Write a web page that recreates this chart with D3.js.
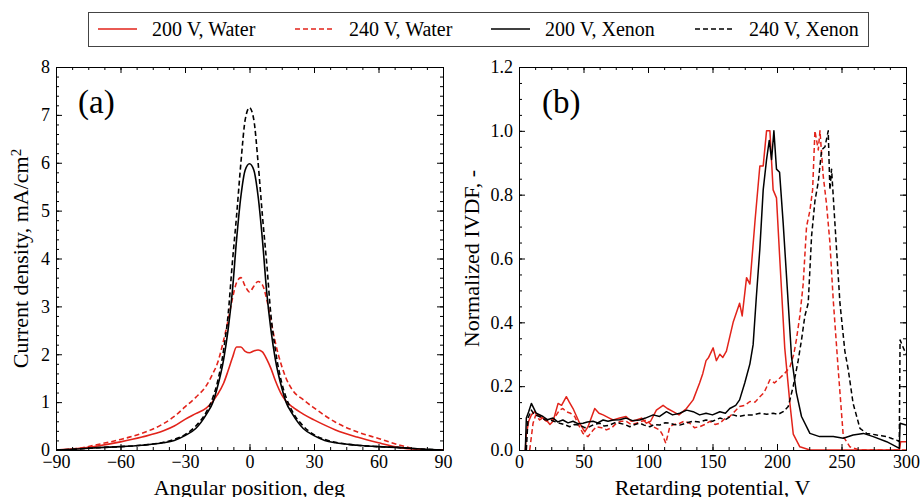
<!DOCTYPE html>
<html>
<head>
<meta charset="utf-8">
<script src="https://cdn.jsdelivr.net/npm/d3@7"></script>
<style>
  body { margin: 0; background: #fff; }
  svg text { font-family: "Liberation Serif", "Times New Roman", serif; fill: #000; }
</style>
</head>
<body>
<div id="chart"></div>
<script>
// ---- dados: painel (a) densidade de corrente vs angulo ----
const angleDeg = [-90, -80, -70, -60, -50, -40, -35, -30, -25, -20, -17, -15, -12, -10, -8, -6, -4, -2, 0,
                  2, 4, 6, 8, 10, 12, 15, 17, 20, 25, 30, 35, 40, 50, 60, 70, 80, 90];
const jWater200 = [0, 0.03, 0.09, 0.17, 0.27, 0.4, 0.5, 0.64, 0.76, 0.88, 1.02, 1.15, 1.4, 1.65, 1.92, 2.15, 2.15, 2.06, 2.03,
                   2.07, 2.09, 2.05, 1.9, 1.7, 1.45, 1.15, 1.02, 0.9, 0.75, 0.63, 0.52, 0.42, 0.27, 0.15, 0.05, 0.01, 0];
const jWater240 = [0, 0.03, 0.12, 0.22, 0.35, 0.55, 0.7, 0.9, 1.1, 1.35, 1.6, 1.8, 2.3, 2.7, 3.15, 3.5, 3.6, 3.42, 3.3,
                   3.42, 3.52, 3.45, 3.15, 2.7, 2.25, 1.75, 1.5, 1.25, 1.05, 0.88, 0.72, 0.58, 0.38, 0.24, 0.1, 0.01, 0];
const jXenon200 = [0, 0.02, 0.05, 0.07, 0.1, 0.15, 0.2, 0.3, 0.45, 0.75, 1.0, 1.3, 1.9, 2.5, 3.3, 4.4, 5.3, 5.85, 5.98,
                   5.85, 5.3, 4.4, 3.3, 2.5, 1.9, 1.3, 1.0, 0.75, 0.45, 0.3, 0.2, 0.15, 0.1, 0.07, 0.05, 0.02, 0];
const jXenon240 = [0, 0.02, 0.05, 0.07, 0.1, 0.16, 0.22, 0.32, 0.5, 0.8, 1.1, 1.4, 2.1, 2.8, 3.9, 4.9, 6.0, 6.9, 7.15,
                   6.9, 6.0, 4.9, 3.9, 2.8, 2.1, 1.4, 1.1, 0.8, 0.5, 0.32, 0.22, 0.16, 0.1, 0.07, 0.05, 0.02, 0];

// ---- dados: painel (b) IVDF normalizada, pares [potencial V, valor] ----
const ivdfWater200 = [[4.9,0],[5.7,0.05],[7.5,0.09],[9.6,0.11],[12,0.12],[16,0.105],[21.2,0.094],[24,0.08],[26.4,0.09],
  [30.3,0.146],[33,0.14],[36.7,0.167],[39,0.15],[41.9,0.13],[47,0.084],[51,0.057],[53.5,0.073],[58.7,0.13],[62,0.115],
  [65.2,0.11],[70,0.1],[73,0.094],[78,0.1],[83,0.105],[87,0.09],[91,0.094],[95,0.1],[98.8,0.084],[102,0.09],[106.5,0.125],
  [111.7,0.14],[115,0.13],[119.5,0.12],[124,0.11],[129.8,0.13],[135,0.157],[140,0.21],[142.5,0.24],[145,0.28],[147,0.29],
  [150.5,0.32],[153,0.28],[155.7,0.3],[158,0.29],[160.8,0.31],[166,0.4],[171,0.46],[173,0.42],[176.4,0.54],[179,0.52],
  [183,0.72],[186.7,0.89],[189.3,0.89],[191.9,1.0],[194.5,1.0],[197,0.815],[199.6,0.79],[202,0.61],[206,0.32],[210,0.146],
  [212.6,0.05],[217.7,0.01],[225.5,0],[295,0],[295.8,0.026],[300,0.026]];
const ivdfWater240 = [[8.3,0],[10.9,0.084],[13,0.11],[16,0.094],[18,0.1],[21.2,0.09],[24,0.1],[26.4,0.094],[29,0.11],
  [31.5,0.125],[34,0.13],[36.7,0.12],[40,0.115],[43.2,0.105],[46,0.08],[49.6,0.052],[53.5,0.042],[57,0.06],[60,0.073],
  [64,0.07],[67.8,0.063],[72,0.07],[75.5,0.084],[79,0.09],[83,0.09],[87,0.08],[91,0.084],[95,0.09],[98.8,0.094],[104,0.073],
  [109,0.063],[111,0.05],[113.8,0.021],[116.9,0.073],[120,0.08],[124.6,0.084],[128,0.09],[132.4,0.084],[136,0.07],[140,0.073],
  [144,0.08],[148,0.09],[152,0.08],[155.7,0.084],[160,0.1],[163.4,0.105],[167,0.12],[171,0.136],[175,0.14],[179,0.152],
  [183,0.15],[186.7,0.167],[190,0.18],[194.5,0.22],[198,0.21],[202,0.225],[206,0.24],[210,0.26],[213,0.3],[215,0.345],
  [217.7,0.42],[220.3,0.52],[222.9,0.7],[225.5,0.75],[227.6,0.815],[229.4,1.0],[232,0.94],[233.3,1.0],[235.8,0.86],
  [238.4,0.77],[241,0.65],[243.6,0.47],[247.5,0.25],[251.4,0.042],[256.5,0.01],[264,0],[300,0]];
const ivdfXenon200 = [[4.9,0],[5.7,0.1],[7.5,0.12],[9.6,0.146],[13.4,0.115],[18.6,0.105],[22,0.095],[26.4,0.1],[30,0.088],
  [34,0.094],[38,0.085],[41.9,0.09],[46,0.082],[49.6,0.084],[53,0.088],[57.4,0.09],[61,0.085],[65.2,0.094],[69,0.09],
  [73,0.094],[78,0.095],[83,0.1],[88,0.092],[93.6,0.094],[98,0.1],[104,0.11],[109,0.105],[114.3,0.12],[119,0.11],
  [124.6,0.115],[130,0.125],[135,0.12],[140,0.11],[145,0.115],[150,0.11],[155.7,0.12],[160,0.115],[163.4,0.13],[168,0.14],
  [171,0.157],[175,0.21],[179,0.27],[181.5,0.33],[184,0.48],[186.7,0.63],[189.3,0.815],[191.9,0.91],[194,0.97],[195.8,0.91],
  [197.6,1.0],[199.6,0.88],[202,0.87],[204.8,0.71],[208.7,0.46],[211.3,0.29],[215,0.18],[219,0.105],[225.5,0.052],
  [233,0.042],[243.6,0.042],[251.4,0.037],[259,0.047],[267,0.052],[274.6,0.042],[285,0.026],[292.7,0.01],[294.8,0.005],
  [295.4,0.084],[300,0.078]];
const ivdfXenon240 = [[5.7,0],[7,0.1],[9.6,0.125],[12,0.11],[16,0.105],[20,0.095],[23.8,0.094],[27,0.09],[31.5,0.084],
  [35,0.08],[39.3,0.073],[43,0.08],[47,0.078],[51,0.07],[54.8,0.073],[58,0.08],[62.6,0.084],[66,0.075],[70.3,0.078],
  [74,0.085],[78,0.084],[82,0.08],[85.9,0.073],[90,0.08],[93.6,0.084],[97,0.078],[101.4,0.073],[105,0.08],[109,0.078],
  [113,0.085],[116.9,0.084],[120,0.08],[124.6,0.078],[130,0.085],[135,0.09],[140,0.088],[145,0.094],[150,0.09],[155.7,0.1],
  [160,0.095],[166,0.11],[170,0.105],[176.4,0.11],[181,0.11],[186.7,0.115],[192,0.112],[197,0.115],[201,0.112],[204.8,0.12],
  [208.7,0.136],[212.6,0.2],[216.4,0.28],[219,0.345],[221.6,0.42],[224.2,0.46],[226.8,0.67],[229.4,0.78],[232,0.84],
  [234.6,0.94],[237.2,0.95],[239.7,1.0],[241,0.815],[242.3,0.88],[244.9,0.71],[248.8,0.46],[252.6,0.31],[255.3,0.25],
  [259,0.146],[264.3,0.068],[269.5,0.052],[273,0.05],[277.3,0.047],[281,0.045],[285,0.042],[289,0.036],[292.7,0.031],
  [294.8,0.026],[295.4,0.345],[300,0.3]];

// ---- ticks ----
const angleTicks = [-90, -60, -30, 0, 30, 60, 90];
const densityTicks = [0, 1, 2, 3, 4, 5, 6, 7, 8];
const potentialTicks = [0, 50, 100, 150, 200, 250, 300];
const ivdfTicks = [0, 0.2, 0.4, 0.6, 0.8, 1.0, 1.2];

const seriesNames = ['200 V, Water', '240 V, Water', '200 V, Xenon', '240 V, Xenon'];
const RED = '#e2231a';
const seriesStyle = [
  {color: RED, dash: null},
  {color: RED, dash: '5,3'},
  {color: '#000', dash: null},
  {color: '#000', dash: '5,3'}
];

const svg = d3.select('#chart').append('svg')
  .attr('width', 921).attr('height', 497);
svg.append('rect').attr('width', 921).attr('height', 497).attr('fill', '#fff');

const plotH = 383, plotW = 387;

// Desenhar moldura com ticks para dentro nos quatro lados
function drawFrame(g, x, y, xMaj, xMinStep, yMaj, yMinStep, yFmt) {
  const [x0, x1] = x.domain(), [y0, y1] = y.domain();
  const xMin = d3.range(x0, x1 + 1e-9, xMinStep);
  const yMin = d3.range(y0, y1 + 1e-9, yMinStep);
  const add = (axis, tr) => {
    const a = g.append('g').attr('transform', tr).call(axis);
    a.selectAll('path.domain').attr('stroke', '#000').attr('stroke-width', 1);
    a.selectAll('line').attr('stroke', '#000');
    a.selectAll('text').style('font-size', '18px').attr('fill', '#000');
    return a;
  };
  add(d3.axisBottom(x).tickValues(xMin).tickSize(-3).tickSizeOuter(0).tickFormat(''), `translate(0,${plotH})`);
  add(d3.axisTop(x).tickValues(xMin).tickSize(-3).tickSizeOuter(0).tickFormat(''), 'translate(0,0)');
  add(d3.axisLeft(y).tickValues(yMin).tickSize(-3).tickSizeOuter(0).tickFormat(''), 'translate(0,0)');
  add(d3.axisRight(y).tickValues(yMin).tickSize(-3).tickSizeOuter(0).tickFormat(''), `translate(${plotW},0)`);
  add(d3.axisBottom(x).tickValues(xMaj).tickSize(-6).tickSizeOuter(0).tickPadding(5), `translate(0,${plotH})`);
  add(d3.axisTop(x).tickValues(xMaj).tickSize(-6).tickSizeOuter(0).tickFormat(''), 'translate(0,0)');
  add(d3.axisLeft(y).tickValues(yMaj).tickSize(-6).tickSizeOuter(0).tickPadding(6).tickFormat(yFmt), 'translate(0,0)');
  add(d3.axisRight(y).tickValues(yMaj).tickSize(-6).tickSizeOuter(0).tickFormat(''), `translate(${plotW},0)`);
}

// ---- painel (a) ----
const ga = svg.append('g').attr('transform', 'translate(56,67)');
const xa = d3.scaleLinear().domain([-90, 90]).range([0, plotW]);
const ya = d3.scaleLinear().domain([0, 8]).range([plotH, 0]);
const lineA = d3.line().x((d, i) => xa(angleDeg[i])).y(d => ya(d)).curve(d3.curveMonotoneX);

const clipA = ga.append('clipPath').attr('id', 'clipA').append('rect')
  .attr('width', plotW).attr('height', plotH);

[jWater200, jWater240, jXenon200, jXenon240].forEach((s, k) => {
  ga.append('path')
    .attr('d', lineA(s))
    .attr('fill', 'none')
    .attr('stroke', seriesStyle[k].color)
    .attr('stroke-width', 1.6)
    .attr('stroke-dasharray', seriesStyle[k].dash)
    .attr('clip-path', 'url(#clipA)');
});
drawFrame(ga, xa, ya, angleTicks, 7.5, densityTicks, 0.2, d3.format('d'));

ga.append('text').attr('x', 22).attr('y', 46).style('font-size', '33px').text('(a)');
ga.append('text')
  .attr('x', plotW / 2).attr('y', 428)
  .attr('text-anchor', 'middle').style('font-size', '22px')
  .text('Angular position, deg');
const yta = ga.append('text')
  .attr('transform', `translate(-28,${plotH / 2}) rotate(-90)`)
  .attr('text-anchor', 'middle').style('font-size', '22px');
yta.append('tspan').text('Current density, mA/cm');
yta.append('tspan').attr('dy', '-0.45em').style('font-size', '15px').text('2');

// ---- painel (b) ----
const gb = svg.append('g').attr('transform', 'translate(519,67)');
const xb = d3.scaleLinear().domain([0, 300]).range([0, plotW]);
const yb = d3.scaleLinear().domain([0, 1.2]).range([plotH, 0]);
const lineB = d3.line().x(d => xb(d[0])).y(d => yb(d[1]));

gb.append('clipPath').attr('id', 'clipB').append('rect')
  .attr('width', plotW).attr('height', plotH);

[ivdfWater200, ivdfWater240, ivdfXenon200, ivdfXenon240].forEach((s, k) => {
  gb.append('path')
    .attr('d', lineB(s))
    .attr('fill', 'none')
    .attr('stroke', seriesStyle[k].color)
    .attr('stroke-width', 1.5)
    .attr('stroke-linejoin', 'round')
    .attr('stroke-dasharray', seriesStyle[k].dash)
    .attr('clip-path', 'url(#clipB)');
});
drawFrame(gb, xb, yb, potentialTicks, 12.5, ivdfTicks, 0.05, d3.format('.1f'));

gb.append('text').attr('x', 23).attr('y', 46).style('font-size', '33px').text('(b)');
gb.append('text')
  .attr('x', plotW / 2).attr('y', 428)
  .attr('text-anchor', 'middle').style('font-size', '22px')
  .text('Retarding potential, V');
gb.append('text')
  .attr('transform', `translate(-40,${plotH / 2}) rotate(-90)`)
  .attr('text-anchor', 'middle').style('font-size', '22px')
  .text('Normalized IVDF, -');

// ---- legenda ----
const legend = svg.append('g').attr('class', 'legend');
legend.append('rect')
  .attr('x', 88.5).attr('y', 12.5).attr('width', 780).attr('height', 34)
  .attr('fill', '#fff').attr('stroke', '#444').attr('stroke-width', 1);
const legendX = [98, 295, 491, 695];
const items = legend.selectAll('.legend-item')
  .data(seriesNames)
  .enter().append('g')
  .attr('class', 'legend-item')
  .attr('transform', (d, i) => `translate(${legendX[i]},29)`);
items.append('line')
  .attr('x1', 0).attr('x2', 39).attr('y1', 0).attr('y2', 0)
  .attr('stroke', (d, i) => seriesStyle[i].color)
  .attr('stroke-width', 1.6)
  .attr('stroke-dasharray', (d, i) => seriesStyle[i].dash);
items.append('text')
  .attr('x', 54).attr('y', 7)
  .style('font-size', '20px')
  .text(d => d);
</script>
</body>
</html>
